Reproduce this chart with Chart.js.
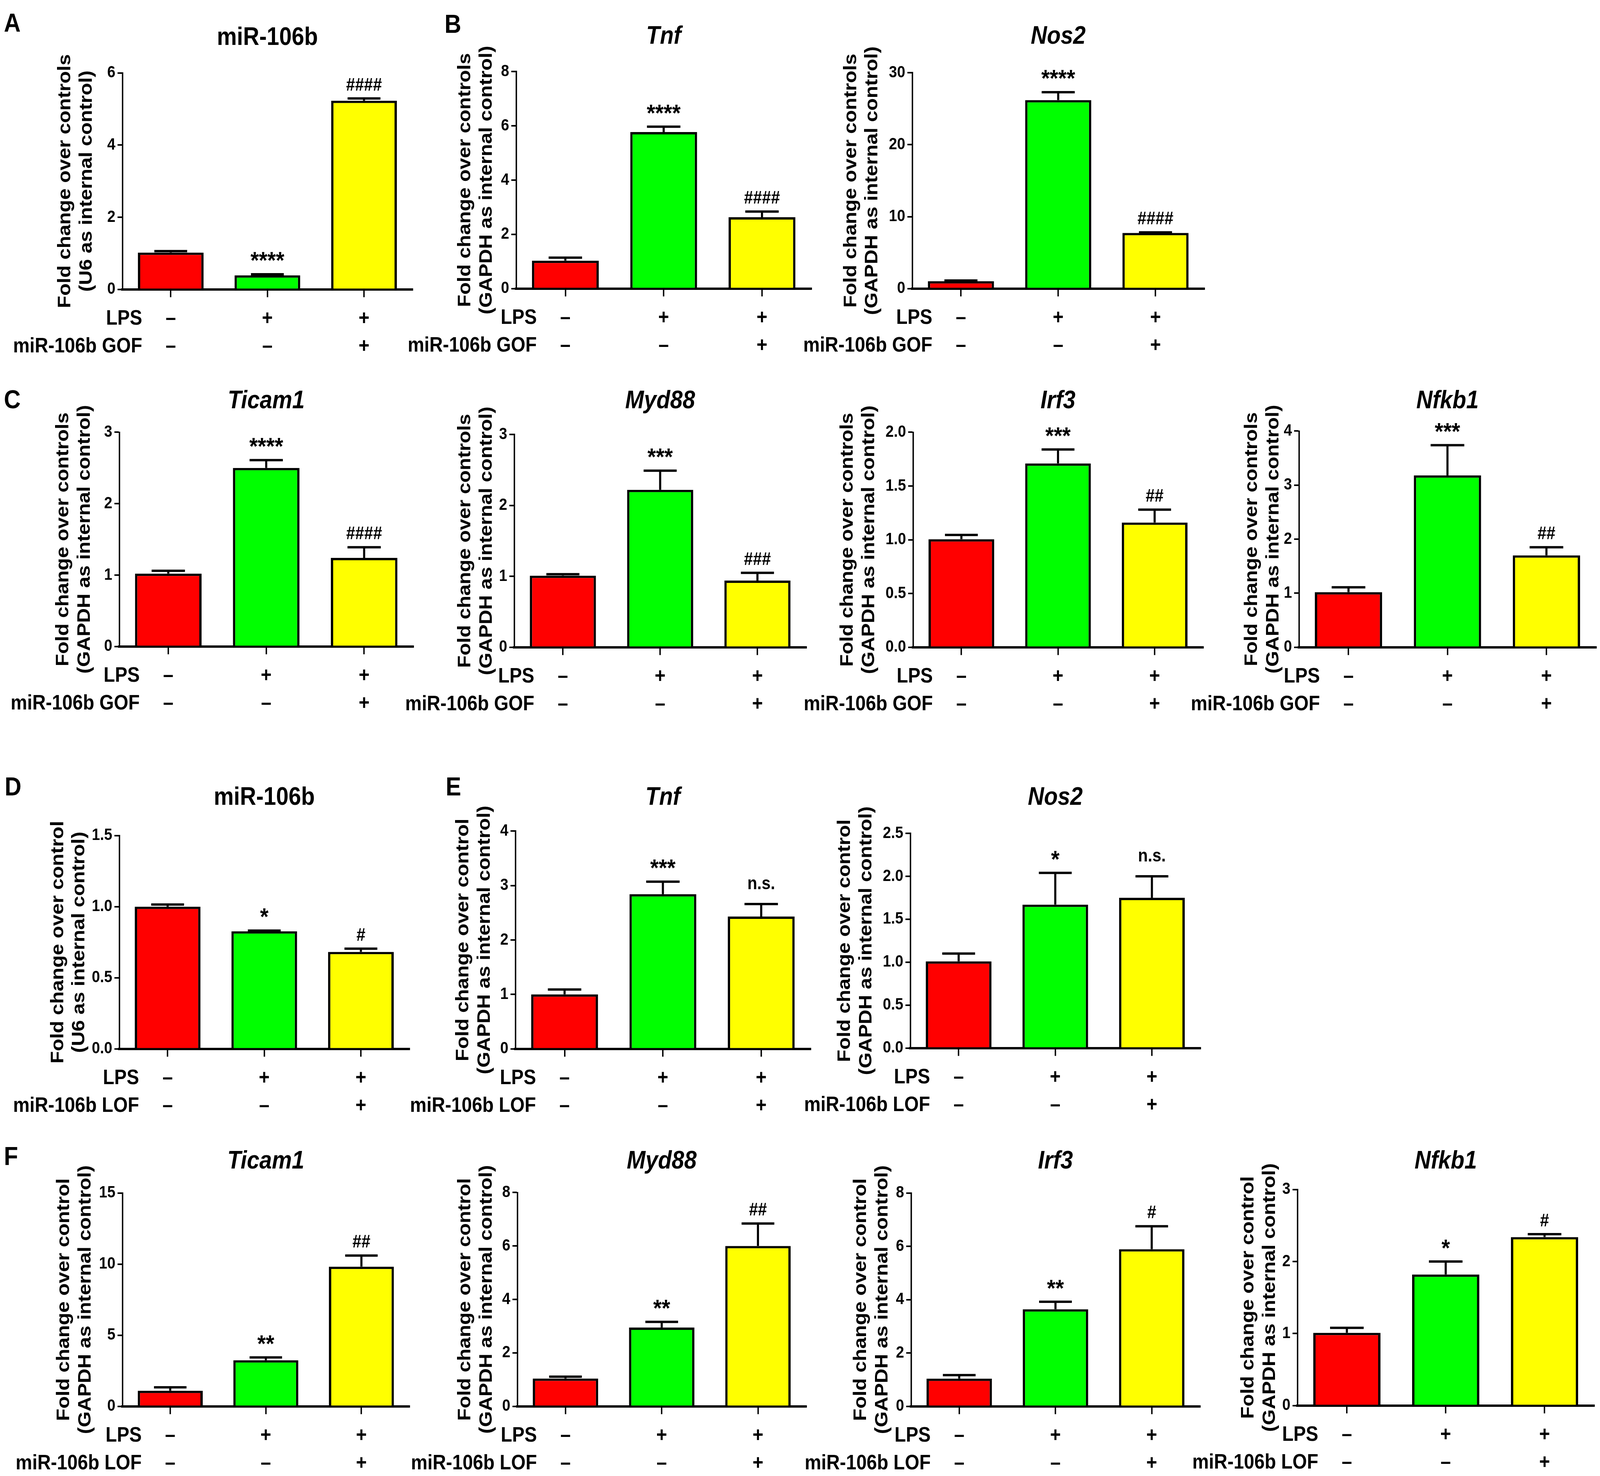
<!DOCTYPE html>
<html>
<head>
<meta charset="utf-8">
<script src="https://cdn.jsdelivr.net/npm/chart.js@4.4.0/dist/chart.umd.min.js"></script>
<style>
  html, body { margin: 0; padding: 0; background: #fff; overflow: hidden; }
  #fig { position: relative; background: #fff; overflow: hidden; }
  #fig canvas { position: absolute; }
  .letter { position: absolute; font-family: "Liberation Sans", Arial, sans-serif; font-weight: bold;
            line-height: 1; color: #000; transform-origin: 0 0; }
</style>
</head>
<body>
<div id="fig"></div>
<script>
// treatment groups (same three bars in every panel)
const groups   = ['Control', 'LPS', 'LPS + miR-106b'];
const lpsRow   = ['–', '+', '+'];
const mirRow   = ['–', '–', '+'];
const barColors = ['#ff0000', '#00ff00', '#ffff00'];

// A - miR-106b gain of function
const aMir = [1.02, 0.39, 5.23], aMirErr = [0.04, 0.03, 0.06], aMirSig = ['', '****', '####'];
// B
const bTnf  = [1.03, 5.77, 2.63], bTnfErr  = [0.11, 0.20, 0.21], bTnfSig  = ['', '****', '####'];
const bNos2 = [1.03, 26.2, 7.74], bNos2Err = [0.10, 1.1, 0.08],  bNos2Sig = ['', '****', '####'];
// C
const cTicam1 = [1.02, 2.50, 1.24], cTicam1Err = [0.04, 0.11, 0.15], cTicam1Sig = ['', '****', '####'];
const cMyd88  = [1.01, 2.22, 0.94], cMyd88Err  = [0.02, 0.27, 0.11], cMyd88Sig  = ['', '***', '###'];
const cIrf3   = [1.005, 1.71, 1.16], cIrf3Err  = [0.04, 0.13, 0.12], cIrf3Sig   = ['', '***', '##'];
const cNfkb1  = [1.02, 3.18, 1.70], cNfkb1Err  = [0.09, 0.56, 0.15], cNfkb1Sig  = ['', '***', '##'];
// D - miR-106b loss of function
const dMir = [1.00, 0.827, 0.682], dMirErr = [0.015, 0.005, 0.023], dMirSig = ['', '*', '#'];
// E
const eTnf  = [1.00, 2.84, 2.43], eTnfErr  = [0.09, 0.23, 0.23], eTnfSig  = ['', '***', 'n.s.'];
const eNos2 = [1.01, 1.67, 1.75], eNos2Err = [0.09, 0.37, 0.25], eNos2Sig = ['', '*', 'n.s.'];
// F
const fTicam1 = [1.10, 3.24, 9.82], fTicam1Err = [0.24, 0.20, 0.78], fTicam1Sig = ['', '**', '##'];
const fMyd88  = [1.04, 2.95, 6.00], fMyd88Err  = [0.07, 0.21, 0.84], fMyd88Sig  = ['', '**', '##'];
const fIrf3   = [1.04, 3.64, 5.89], fIrf3Err   = [0.13, 0.28, 0.86], fIrf3Sig   = ['', '**', '#'];
const fNfkb1  = [1.01, 1.82, 2.34], fNfkb1Err  = [0.07, 0.18, 0.04], fNfkb1Sig  = ['', '*', '#'];

// axis titles
const yGofU6    = ['Fold change over controls', '(U6 as internal control)'];
const yGofGapdh = ['Fold change over controls', '(GAPDH as internal control)'];
const yLofU6    = ['Fold change over control', '(U6 as internal control)'];
const yLofGapdh = ['Fold change over control', '(GAPDH as internal control)'];

// layout numbers were measured on a 1568 x 1298 copy of the figure.
// KX/KY turn them into page px, FX/FY turn full-size px (fonts, strokes) into page px
const W = window.innerWidth, H = window.innerHeight;
const KX = W / 1568, KY = H / 1298;
const FX = W / 4562, FY = H / 3778;
const SX = FX / FY;   // squeeze text so it keeps its shape if the page is not 4562 wide
const FONT = '"Liberation Sans", Arial, sans-serif';
const NUMFONT = '"Liberation Sans Narrow", "Liberation Sans", Arial, sans-serif';

const panels = [
  // row 1
  { title: 'miR-106b', italic: false, v: aMir, e: aMirErr, s: aMirSig, max: 6, step: 2, yt: yGofU6, row2: 'miR-106b GOF',
    ax: 120, top: 64, base: 254.5, end: 404, ty: 33.5, yl: 56 },
  { title: 'Tnf', italic: true, v: bTnf, e: bTnfErr, s: bTnfSig, max: 8, step: 2, yt: yGofGapdh, row2: 'miR-106b GOF',
    ax: 506, top: 63, base: 254, end: 795, ty: 32.6, yl: 50 },
  { title: 'Nos2', italic: true, v: bNos2, e: bNos2Err, s: bNos2Sig, max: 30, step: 10, yt: yGofGapdh, row2: 'miR-106b GOF',
    ax: 894, top: 64, base: 254, end: 1180, ty: 32.6, yl: 60 },
  // row 2
  { title: 'Ticam1', italic: true, v: cTicam1, e: cTicam1Err, s: cTicam1Sig, max: 3, step: 1, yt: yGofGapdh, row2: 'miR-106b GOF',
    ax: 117, top: 380, base: 568.5, end: 405, ty: 353, yl: 55 },
  { title: 'Myd88', italic: true, v: cMyd88, e: cMyd88Err, s: cMyd88Sig, max: 3, step: 1, yt: yGofGapdh, row2: 'miR-106b GOF',
    ax: 504, top: 382, base: 569, end: 790, ty: 353, yl: 48 },
  { title: 'Irf3', italic: true, v: cIrf3, e: cIrf3Err, s: cIrf3Sig, max: 2, step: 0.5, yt: yGofGapdh, row2: 'miR-106b GOF',
    ax: 895, top: 380, base: 569, end: 1179, ty: 353, yl: 64 },
  { title: 'Nfkb1', italic: true, v: cNfkb1, e: cNfkb1Err, s: cNfkb1Sig, max: 4, step: 1, yt: yGofGapdh, row2: 'miR-106b GOF',
    ax: 1273, top: 379, base: 569, end: 1564, ty: 353, yl: 46 },
  // row 3
  { title: 'miR-106b', italic: false, v: dMir, e: dMirErr, s: dMirSig, max: 1.5, step: 0.5, yt: yLofU6, row2: 'miR-106b LOF',
    ax: 117, top: 735, base: 922.6, end: 401, ty: 702, yl: 60 },
  { title: 'Tnf', italic: true, v: eTnf, e: eTnfErr, s: eTnfSig, max: 4, step: 1, yt: yLofGapdh, row2: 'miR-106b LOF',
    ax: 505, top: 731, base: 922.6, end: 794, ty: 702, yl: 51 },
  { title: 'Nos2', italic: true, v: eNos2, e: eNos2Err, s: eNos2Sig, max: 2.5, step: 0.5, yt: yLofGapdh, row2: 'miR-106b LOF',
    ax: 892, top: 733, base: 922, end: 1176, ty: 702, yl: 64 },
  // row 4
  { title: 'Ticam1', italic: true, v: fTicam1, e: fTicam1Err, s: fTicam1Sig, max: 15, step: 5, yt: yLofGapdh, row2: 'miR-106b LOF',
    ax: 120, top: 1049, base: 1236.5, end: 401, ty: 1021.6, yl: 57 },
  { title: 'Myd88', italic: true, v: fMyd88, e: fMyd88Err, s: fMyd88Sig, max: 8, step: 2, yt: yLofGapdh, row2: 'miR-106b LOF',
    ax: 507, top: 1048.6, base: 1236.6, end: 790, ty: 1021.6, yl: 51 },
  { title: 'Irf3', italic: true, v: fIrf3, e: fIrf3Err, s: fIrf3Sig, max: 8, step: 2, yt: yLofGapdh, row2: 'miR-106b LOF',
    ax: 893, top: 1049, base: 1236.6, end: 1176, ty: 1021.6, yl: 49 },
  { title: 'Nfkb1', italic: true, v: fNfkb1, e: fNfkb1Err, s: fNfkb1Sig, max: 3, step: 1, yt: yLofGapdh, row2: 'miR-106b LOF',
    ax: 1271.5, top: 1046, base: 1236, end: 1562, ty: 1021.6, yl: 48 }
];

// panel letters, glyph box position in full-size px
const letters = [
  { t: 'A', x: 11, y: 25 }, { t: 'B', x: 1268, y: 28 }, { t: 'C', x: 11, y: 989 },
  { t: 'D', x: 13, y: 1980 }, { t: 'E', x: 1271, y: 1980 }, { t: 'F', x: 11, y: 2926 }
];

const fig = document.getElementById('fig');
fig.style.width = W + 'px';
fig.style.height = H + 'px';

letters.forEach(function(l) {
  const d = document.createElement('div');
  d.className = 'letter';
  d.textContent = l.t;
  d.style.fontSize = (66 * FY) + 'px';
  d.style.left = (l.x * FX) + 'px';
  d.style.top = (l.y * FY) + 'px';
  d.style.transform = 'scaleX(' + SX + ')';
  fig.appendChild(d);
});

// horizontal text, squeezed with the page
function text(ctx, s, x, y, align) {
  ctx.save();
  ctx.translate(x, y);
  ctx.scale(SX, 1);
  ctx.textAlign = align;
  ctx.fillText(s, 0, 0);
  ctx.restore();
}

// error bars, stars, titles, tick numbers and the +/- table are drawn here
function decoPlugin(p, cTop) {
  return {
    id: 'deco',
    afterDatasetsDraw(chart) {
      const ctx = chart.ctx, xs = chart.scales.x, ys = chart.scales.y, a = chart.chartArea;
      const meta = chart.getDatasetMeta(0);
      ctx.save();
      ctx.fillStyle = '#000';
      ctx.strokeStyle = '#000';

      // upper whiskers + significance marks
      p.v.forEach(function(val, i) {
        const cx = xs.getPixelForValue(i);
        const y0 = ys.getPixelForValue(val);
        const y1 = ys.getPixelForValue(val + p.e[i]);
        const half = meta.data[i].width * 0.25;
        ctx.lineWidth = 6 * FX;
        ctx.beginPath();
        ctx.moveTo(cx, y0); ctx.lineTo(cx, y1);
        ctx.stroke();
        ctx.lineWidth = 6 * FY;
        ctx.beginPath();
        ctx.moveTo(cx - half, y1); ctx.lineTo(cx + half, y1);
        ctx.stroke();
        if (p.s[i]) {
          const lab = p.s[i];
          ctx.textBaseline = 'alphabetic';
          if (lab[0] === '*') {
            ctx.font = 'bold ' + (62 * FY) + 'px ' + FONT;
            text(ctx, lab, cx, y1 - 5 * KY, 'center');
          } else if (lab === 'n.s.') {
            ctx.font = 'bold ' + (46 * FY) + 'px ' + NUMFONT;
            text(ctx, lab, cx, y1 - 13 * KY, 'center');
          } else {
            ctx.font = 'bold ' + (46 * FY) + 'px ' + NUMFONT;
            text(ctx, lab, cx, y1 - 7 * KY, 'center');
          }
        }
      });

      // y tick numbers
      ctx.font = 'bold ' + (42 * FY) + 'px ' + NUMFONT;
      ctx.textBaseline = 'middle';
      ys.ticks.forEach(function(t) {
        const lab = p.step < 1 ? t.value.toFixed(1) : String(t.value);
        text(ctx, lab, a.left - 20 * FX, ys.getPixelForValue(t.value), 'right');
      });

      // panel title over the middle bar
      ctx.font = (p.italic ? 'italic ' : '') + 'bold ' + (64 * FY) + 'px ' + FONT;
      ctx.textBaseline = 'middle';
      text(ctx, p.title, xs.getPixelForValue(1), (p.ty - cTop) * KY, 'center');

      // y axis title, two rotated lines
      ctx.font = 'bold ' + (52 * FY) + 'px ' + FONT;
      ctx.textAlign = 'center';
      ctx.textBaseline = 'middle';
      p.yt.forEach(function(line, i) {
        ctx.save();
        ctx.translate(a.left - (p.yl - 21 * i) * KX, (a.top + a.bottom) / 2);
        ctx.rotate(-Math.PI / 2);
        ctx.scale(1, SX);
        ctx.fillText(line, 0, 0);
        ctx.restore();
      });

      // treatment table under the axis
      ctx.font = 'bold ' + (53 * FY) + 'px ' + FONT;
      ctx.textBaseline = 'middle';
      const r1 = a.bottom + 26 * KY, r2 = a.bottom + 50.5 * KY;
      const lx = xs.getPixelForValue(0) - 28 * KX;
      text(ctx, 'LPS', lx, r1, 'right');
      text(ctx, p.row2, lx, r2, 'right');
      groups.forEach(function(g, i) {
        const cx = xs.getPixelForValue(i);
        text(ctx, lpsRow[i], cx, r1, 'center');
        text(ctx, mirRow[i], cx, r2, 'center');
      });
      ctx.restore();
    }
  };
}

panels.forEach(function(p) {
  const cLeft = p.ax - 120, cTop = p.ty - 25, cRight = p.end + 4, cBottom = p.base + 64;
  const yw = p.ax - cLeft, xh = cBottom - p.base;
  const cv = document.createElement('canvas');
  const w = Math.round((cRight - cLeft) * KX), h = Math.round((cBottom - cTop) * KY);
  cv.width = w; cv.height = h;
  cv.style.width = w + 'px'; cv.style.height = h + 'px';
  cv.style.left = Math.round(cLeft * KX) + 'px';
  cv.style.top = Math.round(cTop * KY) + 'px';
  fig.appendChild(cv);

  new Chart(cv, {
    type: 'bar',
    data: {
      labels: groups,
      datasets: [{
        data: p.v,
        backgroundColor: barColors,
        borderColor: '#000',
        borderWidth: 6 * FY,
        barPercentage: 0.68,
        categoryPercentage: 1
      }]
    },
    options: {
      responsive: false,
      animation: false,
      events: [],
      layout: { padding: { top: (p.top - cTop) * KY, right: 4 * KX, bottom: 0, left: 0 } },
      plugins: { legend: { display: false }, tooltip: { enabled: false }, title: { display: false } },
      scales: {
        x: {
          ticks: { display: false },
          grid: { offset: false, drawOnChartArea: false, drawTicks: true, tickLength: 20 * FY, color: '#000', lineWidth: 4 * FX },
          border: { display: true, color: '#000', width: 6 * FY },
          afterFit: function(s) { s.height = xh * KY; }
        },
        y: {
          min: 0,
          max: p.max,
          ticks: { display: false, stepSize: p.step },
          grid: { drawOnChartArea: false, drawTicks: true, tickLength: 14 * FX, color: '#000', lineWidth: 4 * FY },
          border: { display: true, color: '#000', width: 4 * FX },
          afterFit: function(s) { s.width = yw * KX; }
        }
      }
    },
    plugins: [decoPlugin(p, cTop)]
  });
});
</script>
</body>
</html>
